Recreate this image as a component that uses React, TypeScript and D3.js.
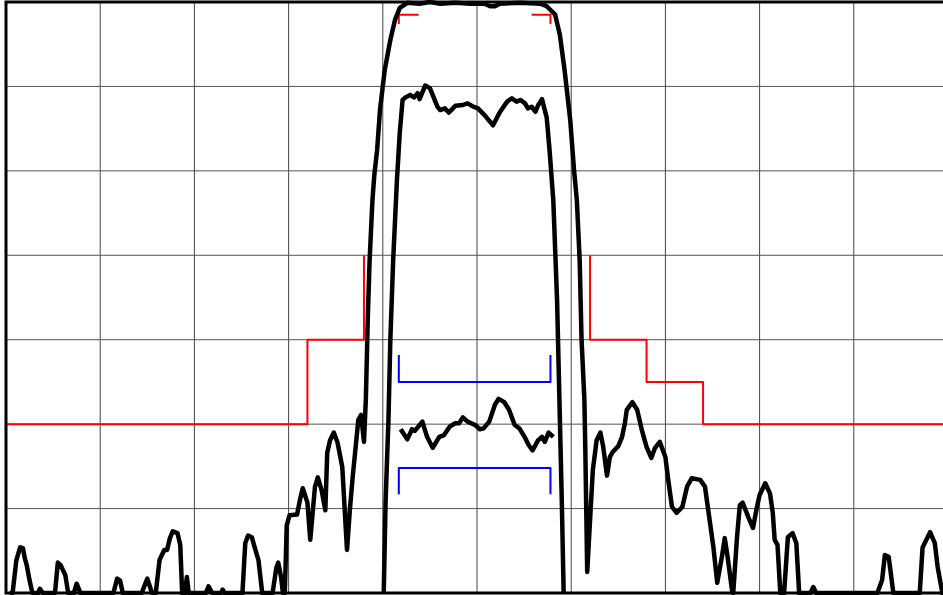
import React, { useEffect, useRef } from "react";
import * as d3 from "d3";

// frequency offset (MHz) / level (dB) pairs
const spectrum: [number, number][] = [
  [-49.6, -70], [-49.3, -70], [-48.9, -66.1], [-48.5, -64.6], [-48.2, -64.7], [-48.0, -65.9],
  [-47.8, -66.7], [-47.5, -68.5], [-47.2, -70], [-46.6, -70], [-46.4, -69.5], [-46.1, -70],
  [-44.8, -70], [-44.5, -66.4], [-44.2, -66.7], [-43.7, -67.9], [-43.4, -70], [-42.8, -70],
  [-42.5, -68.9], [-42.1, -70], [-38.6, -70], [-38.2, -68.3], [-37.9, -68.5], [-37.6, -70],
  [-35.6, -70], [-35.0, -68.3], [-34.5, -70], [-34.1, -70], [-33.7, -66.1], [-33.2, -64.9],
  [-32.9, -64.9], [-32.6, -63.5], [-32.3, -62.7], [-31.8, -62.9], [-31.5, -64.3], [-31.3, -70],
  [-31.0, -70], [-30.8, -68.1], [-30.6, -70], [-28.8, -70], [-28.5, -69.2], [-28.1, -70],
  [-27.2, -70], [-27.0, -69.6], [-26.8, -70], [-24.9, -70], [-24.6, -64.1], [-24.3, -63.2],
  [-23.9, -63.4], [-23.6, -64.6], [-23.2, -66.1], [-22.8, -70], [-21.7, -70], [-21.3, -67.0],
  [-21.1, -66.4], [-20.8, -68.1], [-20.6, -70], [-20.4, -70], [-20.2, -62.0], [-19.9, -60.8],
  [-19.1, -60.7], [-18.8, -59.0], [-18.5, -57.6], [-18.0, -59.3], [-17.7, -63.7], [-17.2, -57.4],
  [-16.9, -56.3], [-16.5, -57.8], [-16.1, -60.2], [-15.9, -53.4], [-15.6, -51.9], [-15.2, -51.0],
  [-14.8, -52.2], [-14.3, -55.1], [-13.8, -64.9], [-13.5, -60.2], [-13.2, -56.3], [-12.6, -49.5],
  [-12.3, -48.9], [-12.0, -52.1], [-11.8, -47.1], [-11.6, -37.7], [-11.4, -30.6], [-11.1, -23.5],
  [-10.9, -20.5], [-10.6, -17.5], [-10.3, -12.8], [-9.8, -8.1], [-9.2, -4.5], [-8.7, -2.1],
  [-8.2, -0.7], [-7.4, -0.1], [-6.1, -0.2], [-5.0, 0], [-3.9, -0.2], [-2.3, -0.1],
  [-0.7, -0.2], [0.8, -0.2], [1.4, -0.5], [1.9, -0.5], [2.4, -0.2], [4.6, -0.1],
  [6.7, -0.2], [7.4, -0.5], [8.3, -1.5], [8.8, -3.9], [9.3, -8.1], [9.9, -14.0],
  [10.3, -19.9], [10.6, -23.5], [10.9, -30.6], [11.1, -40.0], [11.4, -47.1], [11.5, -53.1],
  [11.7, -67.5], [12.0, -61.4], [12.3, -55.4], [12.7, -51.9], [13.1, -51.0], [13.4, -52.7],
  [13.8, -56.1], [14.1, -53.9], [14.4, -53.3], [15.0, -52.6], [15.4, -51.5], [15.7, -49.9],
  [15.9, -48.3], [16.5, -47.4], [17.0, -48.3], [17.5, -50.7], [18.0, -52.7], [18.5, -54.0],
  [18.9, -52.8], [19.4, -52.1], [20.0, -53.9], [20.3, -56.6], [20.7, -59.8], [21.2, -60.5],
  [21.8, -59.8], [22.3, -57.4], [22.8, -56.4], [23.7, -56.6], [24.2, -57.4], [24.5, -59.8],
  [25.1, -64.6], [25.5, -68.8], [26.0, -65.7], [26.3, -63.5], [26.6, -65.7], [27.1, -69.9],
  [27.2, -70], [27.6, -63.4], [27.9, -59.6], [28.2, -59.3], [28.8, -61.0], [29.3, -62.3],
  [29.7, -59.9], [30.0, -58.4], [30.6, -57.0], [31.1, -58.2], [31.4, -60.5], [31.6, -63.7],
  [31.9, -64.3], [32.2, -70], [32.6, -70], [33.0, -63.4], [33.5, -62.9], [33.9, -64.1],
  [34.2, -70], [35.4, -70], [35.7, -69.3], [36.0, -70], [42.5, -70], [43.0, -68.5],
  [43.3, -65.5], [43.7, -65.7], [44.2, -70], [47.0, -70], [47.3, -64.6], [48.1, -62.8],
  [48.6, -64.1], [48.9, -66.9], [49.4, -70], [50, -70],
];

const channel: [number, number][] = [
  [-9.9, -70], [-9.7, -59.0], [-9.4, -49.5], [-9.2, -40.0], [-8.9, -30.6], [-8.5, -21.1],
  [-8.2, -15.5], [-7.9, -11.6], [-7.6, -11.3], [-7.1, -11.0], [-6.7, -11.3], [-6.3, -10.8],
  [-6.1, -11.5], [-5.5, -9.9], [-5.0, -10.2], [-4.2, -12.4], [-3.9, -12.8], [-3.4, -12.6],
  [-3.0, -13.1], [-2.3, -12.3], [-1.5, -12.2], [-1.0, -12.0], [-0.4, -12.4], [0.1, -12.6],
  [0.8, -13.4], [1.7, -14.6], [2.4, -13.1], [3.2, -11.8], [3.7, -11.4], [4.2, -11.8],
  [4.6, -11.6], [5.1, -12.0], [5.4, -12.6], [5.8, -12.4], [6.2, -13.0], [6.5, -12.2],
  [6.9, -11.5], [7.4, -13.7], [7.7, -17.5], [8.1, -23.5], [8.5, -35.3], [8.8, -49.5],
  [9.0, -59.0], [9.2, -70],
];

const flatness: [number, number][] = [
  [-8.1, -50.6], [-7.4, -51.8], [-6.9, -50.6], [-6.6, -50.8], [-5.8, -49.7], [-5.3, -51.5],
  [-4.7, -52.8], [-4.0, -51.5], [-3.5, -51.3], [-2.9, -50.3], [-2.3, -49.9], [-1.9, -49.9],
  [-1.5, -49.2], [-1.0, -49.7], [-0.2, -50.1], [0.3, -50.6], [0.7, -50.5], [1.3, -49.7],
  [1.9, -47.7], [2.3, -47.0], [2.9, -47.4], [3.4, -48.3], [4.0, -50.1], [4.5, -50.5],
  [5.1, -51.6], [5.5, -52.5], [5.9, -53.1], [6.5, -51.9], [6.9, -51.5], [7.2, -52.1],
  [7.6, -51.0], [8.1, -51.5],
];

const maskLeft: [number, number][] = [[-50, -50], [-18, -50], [-18, -40], [-12, -40], [-12, -30]];
const maskRight: [number, number][] = [[12, -30], [12, -40], [18, -40], [18, -45], [24, -45], [24, -50], [50, -50]];
const cornerLeft: [number, number][] = [[-8.3, -2.6], [-8.3, -1.5], [-6.2, -1.5]];
const cornerRight: [number, number][] = [[5.8, -1.5], [7.8, -1.5], [7.8, -2.6]];
const limitUpper: [number, number][] = [[-8.3, -41.8], [-8.3, -45], [7.8, -45], [7.8, -41.8]];
const limitLower: [number, number][] = [[-8.3, -58.3], [-8.3, -55.2], [7.8, -55.2], [7.8, -58.3]];

const xTicks = [-50, -40, -30, -20, -10, 0, 10, 20, 30, 40, 50];
const yTicks = [0, -10, -20, -30, -40, -50, -60, -70];

const width = 943;
const height = 595;

export default function App() {
  const svgRef = useRef<SVGSVGElement>(null);

  useEffect(() => {
    if (!svgRef.current) return;
    const svg = d3.select(svgRef.current);
    svg.selectAll("*").remove();

    const x = d3.scaleLinear().domain([-50, 50]).range([6, 948]);
    const y = d3.scaleLinear().domain([-70, 0]).range([593, 2]);

    // grid
    const grid = svg.append("g");
    grid
      .selectAll("line.v")
      .data(xTicks.slice(1, -1))
      .join("line")
      .attr("x1", (d) => x(d))
      .attr("x2", (d) => x(d))
      .attr("y1", y(0))
      .attr("y2", y(-70))
      .attr("stroke", "#444")
      .attr("stroke-width", 1);
    grid
      .selectAll("line.h")
      .data(yTicks.slice(1, -1))
      .join("line")
      .attr("x1", x(-50))
      .attr("x2", x(50))
      .attr("y1", (d) => y(d))
      .attr("y2", (d) => y(d))
      .attr("stroke", "#555")
      .attr("stroke-width", 1);

    const line = d3
      .line<[number, number]>()
      .x((d) => x(d[0]))
      .y((d) => y(d[1]));

    const draw = (data: [number, number][], color: string, w: number) =>
      svg
        .append("path")
        .datum(data)
        .attr("d", line)
        .attr("fill", "none")
        .attr("stroke", color)
        .attr("stroke-width", w)
        .attr("stroke-linejoin", "round");

    // mask and limits
    [maskLeft, maskRight, cornerLeft, cornerRight].forEach((m) => draw(m, "#ff0000", 2));
    [limitUpper, limitLower].forEach((m) => draw(m, "#0000ff", 2));

    // traces
    draw(spectrum, "#000", 4.5);
    draw(channel, "#000", 4.5);
    draw(flatness, "#000", 4.5);

    // frame
    svg
      .append("path")
      .attr("d", `M${x(50)},${y(0)}H${x(-50)}V${y(-70)}H${x(50)}`)
      .attr("fill", "none")
      .attr("stroke", "#000")
      .attr("stroke-width", 3);
  }, []);

  return (
    <svg
      ref={svgRef}
      width={width}
      height={height}
      style={{ position: "absolute", left: 0, top: 0, background: "#fff" }}
    />
  );
}
